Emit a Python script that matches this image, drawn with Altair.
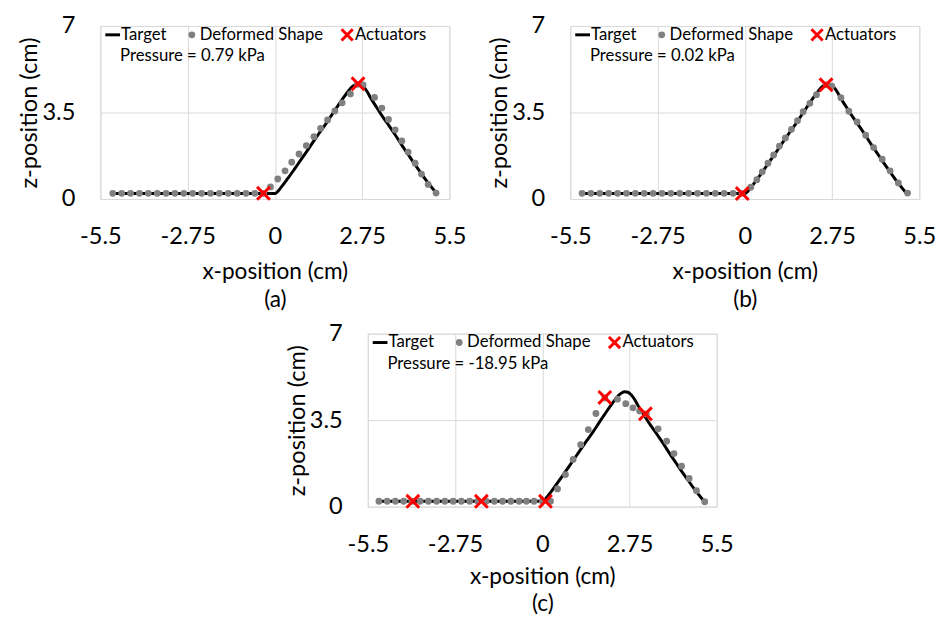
import altair as alt
import pandas as pd

FONT = "Lato"

# ---------------- data (cm) ----------------
x_ticks = [-5.5, -2.75, 0, 2.75, 5.5]
y_ticks = [0, 3.5, 7]

target_x = [-5.11, 0.0, 0.2, 0.4, 0.6, 0.8, 1.0, 1.2, 1.4, 1.6, 1.8, 2.0, 2.15, 2.3, 2.4, 2.5,
            2.6, 2.7, 2.8, 2.9, 3.0, 3.2, 3.4, 3.6, 3.8, 4.0, 4.2, 4.4, 4.6, 4.8, 5.1]
target_z = [0.22, 0.22, 0.48, 0.82, 1.18, 1.55, 1.92, 2.3, 2.67, 3.03, 3.42, 3.8, 4.08, 4.34,
            4.5, 4.6, 4.65, 4.63, 4.53, 4.36, 4.13, 3.72, 3.32, 2.96, 2.58, 2.18, 1.8, 1.42,
            1.06, 0.7, 0.22]

# panel (a)
a_def_x = [-5.11, -4.83, -4.55, -4.27, -3.99, -3.71, -3.43, -3.15, -2.87, -2.59, -2.31, -2.03,
           -1.75, -1.47, -1.19, -0.91, -0.63, -0.35, -0.14, 0.09, 0.32, 0.53, 0.76, 0.99, 1.23,
           1.44, 1.66, 1.89, 2.12, 2.38, 2.6, 2.78, 3.14, 3.37, 3.58, 3.79, 4.0, 4.2, 4.42, 4.62,
           4.83, 5.08]
a_def_z = [0.23, 0.23, 0.23, 0.23, 0.23, 0.23, 0.23, 0.23, 0.23, 0.23, 0.23, 0.23,
           0.23, 0.23, 0.23, 0.23, 0.23, 0.23, 0.49, 0.81, 1.14, 1.49, 1.82, 2.16, 2.52,
           2.86, 3.2, 3.56, 3.89, 4.25, 4.64, 4.62, 4.11, 3.68, 3.22, 2.8, 2.35, 1.9, 1.45, 1.01,
           0.59, 0.24]
a_act_x = [-0.36, 2.62]
a_act_z = [0.23, 4.66]

# panel (b)
b_def_x = [-5.13, -4.85, -4.57, -4.29, -4.01, -3.73, -3.45, -3.17, -2.89, -2.61, -2.33, -2.05,
           -1.77, -1.49, -1.21, -0.93, -0.65, -0.37, -0.09, 0.19, 0.38, 0.55, 0.73, 0.91, 1.09,
           1.28, 1.47, 1.66, 1.84, 2.05, 2.26, 2.57, 2.74, 3.03, 3.28, 3.54, 3.81, 4.06, 4.33,
           4.58, 4.84, 5.13]
b_def_z = [0.23, 0.23, 0.23, 0.23, 0.23, 0.23, 0.23, 0.23, 0.23, 0.23, 0.23, 0.23,
           0.23, 0.23, 0.23, 0.23, 0.23, 0.23, 0.23, 0.48, 0.78, 1.1, 1.45, 1.78, 2.14,
           2.47, 2.82, 3.17, 3.53, 3.87, 4.22, 4.62, 4.57, 4.1, 3.55, 3.12, 2.58, 2.08, 1.61,
           1.14, 0.65, 0.24]
b_act_x = [-0.08, 2.56]
b_act_z = [0.22, 4.62]

# panel (c)
c_def_x = [-5.15, -4.89, -4.63, -4.37, -4.11, -3.85, -3.59, -3.33, -3.07, -2.81, -2.55, -2.29,
           -2.03, -1.77, -1.51, -1.25, -0.99, -0.73, -0.5, -0.26, 0.0, 0.26, 0.48, 0.73, 0.97,
           1.21, 1.45, 1.69, 1.97, 2.37, 2.63, 2.86, 3.07, 3.28, 3.65, 3.92, 4.15, 4.39, 4.63,
           4.86, 5.12]
c_def_z = [0.22, 0.22, 0.22, 0.22, 0.22, 0.22, 0.22, 0.22, 0.22, 0.22, 0.22, 0.22,
           0.22, 0.22, 0.22, 0.22, 0.22, 0.22, 0.22, 0.22, 0.22, 0.22, 0.72, 1.3, 1.91,
           2.51, 3.12, 3.77, 4.4, 4.35, 4.17, 4.0, 3.87, 3.75, 3.15, 2.65, 2.15, 1.64, 1.14,
           0.65, 0.2]
c_act_x = [-4.08, -1.92, 0.1, 1.97, 3.25]
c_act_z = [0.22, 0.22, 0.22, 4.42, 3.76]

series_names = ["Target", "Deformed Shape", "Actuators"]
pressures = ["Pressure = 0.79 kPa", "Pressure = 0.02 kPa", "Pressure = -18.95 kPa"]
captions = ["(a)", "(b)", "(c)"]

# ---------------- styling ----------------
W, H = 355, 176
GRID = "#d9d9d9"
DOT = "#808080"
RED = "#ff0000"
XPATH = "M-1,-1L1,1M-1,1L1,-1"
TICK_FS = 24
XTITLE_FS = 23
YTITLE_FS = 24
LEG_FS = 17


def panel(def_x, def_z, act_x, act_z, pressure, caption, lab_pad, title_pad):
    tdf = pd.DataFrame({"x": target_x, "z": target_z, "i": list(range(len(target_x)))})
    ddf = pd.DataFrame({"x": def_x, "z": def_z})
    adf = pd.DataFrame({"x": act_x, "z": act_z})

    xscale = alt.Scale(domain=[-5.5, 5.5], nice=False, zero=False)
    yscale = alt.Scale(domain=[0, 7], nice=False, zero=False)
    xaxis = alt.Axis(values=x_ticks, labelExpr="'' + datum.value",
                     title=["x-position (cm)", caption], titleLineHeight=28,
                     grid=True, gridColor=GRID, domain=False, ticks=False,
                     labelPadding=lab_pad, titlePadding=title_pad, labelFlush=False,
                     labelOverlap=False,
                     labelFont=FONT, titleFont=FONT, labelFontSize=TICK_FS,
                     titleFontSize=XTITLE_FS, titleFontWeight="normal",
                     labelColor="black", titleColor="black")
    yaxis = alt.Axis(values=y_ticks, labelExpr="'' + datum.value",
                     title="z-position (cm)",
                     grid=True, gridColor=GRID, domain=False, ticks=False,
                     labelPadding=26, titlePadding=0, labelFlush=False, labelOverlap=False,
                     labelFont=FONT, titleFont=FONT, labelFontSize=TICK_FS,
                     titleFontSize=YTITLE_FS, titleFontWeight="normal",
                     labelColor="black", titleColor="black")

    line = alt.Chart(tdf).mark_line(color="black", strokeWidth=3, interpolate="monotone").encode(
        x=alt.X("x:Q", scale=xscale, axis=xaxis),
        y=alt.Y("z:Q", scale=yscale, axis=yaxis),
        order="i:Q")
    dots = alt.Chart(ddf).mark_circle(color=DOT, size=48, opacity=1).encode(
        x="x:Q", y="z:Q")
    acts = alt.Chart(adf).mark_point(shape=XPATH, color=RED, size=170, strokeWidth=3,
                                     filled=False, opacity=1).encode(x="x:Q", y="z:Q")

    one = pd.DataFrame({"k": [0]})
    leg_y = 9
    leg_line = alt.Chart(one).mark_rule(color="black", strokeWidth=3).encode(
        x=alt.value(5), x2=alt.value(20), y=alt.value(leg_y))
    leg_dot = alt.Chart(one).mark_circle(color=DOT, size=48, opacity=1).encode(
        x=alt.value(93), y=alt.value(leg_y))
    leg_x = alt.Chart(one).mark_point(shape=XPATH, color=RED, size=130, strokeWidth=3,
                                      filled=False, opacity=1).encode(
        x=alt.value(251), y=alt.value(leg_y))

    def txt(s, px, py):
        return alt.Chart(one).mark_text(text=s, align="left", baseline="middle", font=FONT,
                                        fontSize=LEG_FS, color="black").encode(
            x=alt.value(px), y=alt.value(py))

    layers = [line, dots, acts, leg_line, leg_dot, leg_x,
              txt(series_names[0], 21, leg_y), txt(series_names[1], 101, leg_y),
              txt(series_names[2], 259, leg_y), txt(pressure, 20, 31)]
    return alt.layer(*layers).properties(width=W, height=H)


def spacer(w):
    return alt.Chart(pd.DataFrame({"k": [0]})).mark_point(opacity=0, size=1).encode(
        x=alt.value(2), y=alt.value(2)).properties(
        width=w, height=10, view=alt.ViewBackground(stroke="transparent"))


pa = panel(a_def_x, a_def_z, a_act_x, a_act_z, pressures[0], captions[0], 26, 13)
pb = panel(b_def_x, b_def_z, b_act_x, b_act_z, pressures[1], captions[1], 26, 13)
pc = panel(c_def_x, c_def_z, c_act_x, c_act_z, pressures[2], captions[2], 27, 9)

chart = alt.vconcat(
    alt.hconcat(pa, pb, spacing=20),
    alt.hconcat(spacer(166), pc, spacing=20),
    spacing=9, center=False,
).properties(
    padding={"left": 9, "top": 0, "right": 0, "bottom": 0}
).configure_view(stroke=GRID, strokeWidth=1)

chart.save("out.html", embed_options={"renderer": "svg", "actions": False})
